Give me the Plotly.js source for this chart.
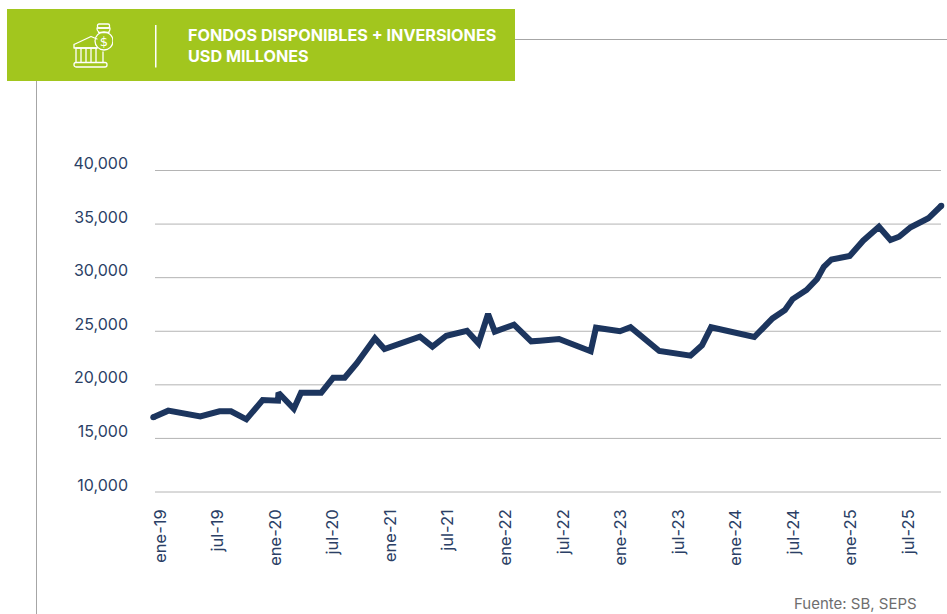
<!DOCTYPE html>
<html><head><meta charset="utf-8">
<script src="https://cdn.plot.ly/plotly-3.0.1.min.js"></script>
<style>html,body{margin:0;padding:0;background:#fff}</style></head>
<body><div id="chart" style="width:947px;height:614px"></div>
<script>
// months since ene-19 (observations are irregularly spaced in the source)
const months = [0,1.56,4.9,6.9,8.1,9.7,11.4,13.0,13.05,14.65,15.4,17.5,18.75,19.95,21.2,23.1,24.1,27.8,29.1,30.55,32.7,33.9,34.9,35.6,37.6,39.4,40.3,42.3,45.6,46.15,48.65,49.75,52.75,56.0,57.2,58.15,62.65,64.55,65.85,66.65,68.1,69.2,69.9,70.7,72.6,74.0,75.65,76.85,77.75,78.95,80.8,82.15];
const fondos = [16970,17590,17060,17530,17530,16780,18580,18520,19260,17770,19260,19260,20660,20660,22000,24340,23340,24490,23560,24580,25050,23870,26610,24960,25610,24060,24120,24280,23130,25330,25000,25370,23160,22720,23690,25370,24460,26200,26980,28000,28850,29870,31020,31700,32020,33450,34750,33510,33820,34700,35540,36710];
const xTickVals = [0,6,12,18,24,30,36,42,48,54,60,66,72,78];
const xTickText = ['ene-19','jul-19','ene-20','jul-20','ene-21','jul-21','ene-22','jul-22','ene-23','jul-23','ene-24','jul-24','ene-25','jul-25'];
const yTickVals = [10000,15000,20000,25000,30000,35000,40000];
const titleLines = ['FONDOS DISPONIBLES + INVERSIONES','USD MILLONES'];
const source = 'Fuente: SB, SEPS';

const W=947,H=614,L=150,R=946,T=160,B=502;
const FONT='Inter, "Open Sans", sans-serif';
const px=x=>(x-L)/(R-L), py=y=>(B-y)/(B-T);
const rect=(x0,y0,x1,y1,fill)=>({type:'rect',xref:'paper',yref:'paper',x0:px(x0),x1:px(x1),y0:py(y0),y1:py(y1),fillcolor:fill,line:{color:fill,width:0},layer:'below'});
const gridShapes=yTickVals.map(v=>({type:'line',xref:'paper',yref:'y',x0:px(155),x1:px(941),y0:v,y1:v,line:{color:'#b4b4b4',width:1},layer:'below'}));
const endSizes=months.map((m,i)=>(i===0||i===months.length-1)?6:0);

const icon=`<svg xmlns="http://www.w3.org/2000/svg" width="40" height="48" viewBox="0 0 40 48"><g fill="none" stroke="#fff" stroke-width="1.3" stroke-linejoin="round" stroke-linecap="round"><rect x="1" y="39.5" width="33" height="4.5" rx="2"/><path d="M3 39.5V25M30 39.5V29M8 39V25M13 39V25M18 39V25M23 39V26M3 25H24"/><path d="M1 21.5L18 13.5L24 16M1 21.5V25H24"/><circle cx="31" cy="18" r="9"/><path d="M26 9.5C23.5 7.5 24 5 24 5H37C37 5 37.5 7.5 35.5 9.5ZM25.5 9.5H36"/><rect x="24.5" y="1" width="12" height="4" rx="1.5"/></g><text x="31" y="22.5" font-family="DejaVu Sans" font-size="13" fill="#fff" text-anchor="middle">$</text></svg>`;

Plotly.newPlot('chart',[{
  x:months,y:fondos,type:'scatter',mode:'lines+markers',
  line:{color:'#1c355e',width:6,shape:'linear'},
  marker:{color:'#1c355e',size:endSizes,opacity:1,line:{width:0}},
  cliponaxis:false,hoverinfo:'x+y'
}],{
  width:W,height:H,showlegend:false,paper_bgcolor:'#fff',plot_bgcolor:'#fff',
  margin:{l:L,r:W-R,t:T,b:H-B,pad:0},
  font:{family:FONT,color:'#2b3f66',size:15.5},
  xaxis:{range:[-0.344,82.64],tickmode:'array',tickvals:xTickVals,ticktext:xTickText,tickangle:-90,showgrid:false,zeroline:false,showline:false,ticks:'',ticklabelstandoff:3,ticklabelshift:7,tickfont:{size:16.5,color:'#2b3f66',family:FONT}},
  yaxis:{range:[9067,40980],tickmode:'array',tickvals:yTickVals,tickformat:',d',showgrid:false,zeroline:false,showline:false,ticks:'',ticklabelstandoff:21,ticklabelshift:-7,tickfont:{size:16,color:'#2b3f66',family:FONT}},
  shapes:[
    ...gridShapes,
    rect(7,9,515,81,'#a2c61e'),
    rect(155,25,156.5,67.5,'#ffffff'),
    {type:'line',xref:'paper',yref:'paper',x0:px(515),x1:px(947),y0:py(39.5),y1:py(39.5),line:{color:'#a6a6a6',width:1},layer:'below'},
    {type:'line',xref:'paper',yref:'paper',x0:px(36.5),x1:px(36.5),y0:py(81),y1:py(614),line:{color:'#a6a6a6',width:1},layer:'below'}
  ],
  images:[{source:'data:image/svg+xml;utf8,'+encodeURIComponent(icon),xref:'paper',yref:'paper',x:px(73),y:py(23),sizex:40/(R-L),sizey:48/(B-T),xanchor:'left',yanchor:'top',sizing:'contain',layer:'above'}],
  annotations:[
    {xref:'paper',yref:'paper',x:px(186),y:py(35),text:'<b>'+titleLines[0]+'</b>',showarrow:false,xanchor:'left',yanchor:'middle',font:{family:FONT,size:16.2,color:'#fff'}},
    {xref:'paper',yref:'paper',x:px(186),y:py(56),text:'<b>'+titleLines[1]+'</b>',showarrow:false,xanchor:'left',yanchor:'middle',font:{family:FONT,size:16.2,color:'#fff'}},
    {xref:'paper',yref:'paper',x:px(919),y:py(603),text:source,showarrow:false,xanchor:'right',yanchor:'middle',font:{family:FONT,size:15,color:'#6e6e6e'}}
  ]
},{displayModeBar:false,staticPlot:true});
</script></body></html>
